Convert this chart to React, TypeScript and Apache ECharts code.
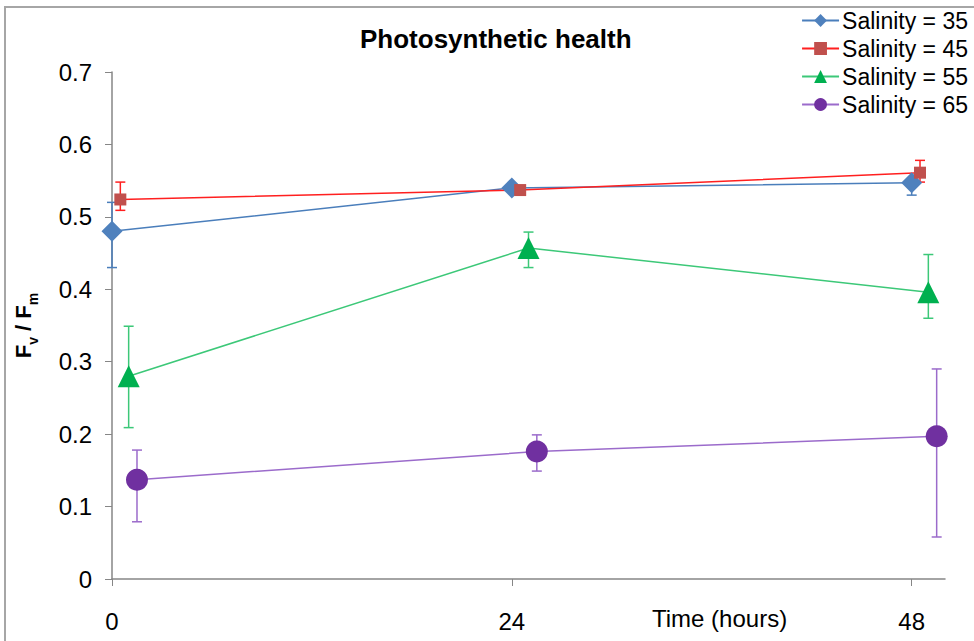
import React, { useEffect, useRef } from 'react';
import * as echarts from 'echarts';

const timeTicks = [0, 24, 48];
const seriesNames = ['Salinity = 35', 'Salinity = 45', 'Salinity = 55', 'Salinity = 65'];

// x positions (hours, slightly offset per series as in the original)
const xS35 = [0, 24, 48];
const xS45 = [0.5, 24.5, 48.5];
const xS55 = [1, 25, 49];
const xS65 = [1.5, 25.5, 49.5];

// Fv/Fm means
const yS35 = [0.48, 0.54, 0.547];
const yS45 = [0.524, 0.537, 0.561];
const yS55 = [0.28, 0.457, 0.396];
const yS65 = [0.137, 0.176, 0.197];

// error bar low / high
const lowS35 = [0.43, 0.54, 0.53];
const highS35 = [0.52, 0.54, 0.55];
const lowS45 = [0.509, 0.537, 0.548];
const highS45 = [0.548, 0.537, 0.578];
const lowS55 = [0.209, 0.43, 0.36];
const highS55 = [0.349, 0.479, 0.448];
const lowS65 = [0.079, 0.149, 0.058];
const highS65 = [0.178, 0.199, 0.29];

const FONT = "'Liberation Sans', Arial, sans-serif";

const styles = [
  { symbol: 'diamond', size: 21, marker: '#4F81BD', line: '#4A7EBB' },
  { symbol: 'rect', size: 12, marker: '#C0504D', line: '#FF1F1F' },
  { symbol: 'triangle', size: 22, marker: '#00B050', line: '#3CC878' },
  { symbol: 'circle', size: 22, marker: '#7030A0', line: '#9B6BCB' },
];

const xs = [xS35, xS45, xS55, xS65];
const ys = [yS35, yS45, yS55, yS65];
const lows = [lowS35, lowS45, lowS55, lowS65];
const highs = [highS35, highS45, highS55, highS65];

export default function App() {
  const ref = useRef<HTMLDivElement>(null);
  useEffect(() => {
    if (!ref.current) return;
    const chart = echarts.init(ref.current, undefined, { renderer: 'svg' });

    const lineSeries = seriesNames.map((name, i) => ({
      name,
      type: 'line',
      data: xs[i].map((x, j) => [x, ys[i][j]]),
      symbol: styles[i].symbol,
      symbolSize: styles[i].size,
      itemStyle: { color: styles[i].marker },
      lineStyle: { color: styles[i].line, width: 1.5 },
      z: 3,
    }));

    const errSeries = seriesNames.map((name, i) => ({
      name: 'err ' + name,
      type: 'custom',
      z: 2,
      data: xs[i].map((x, j) => [x, lows[i][j], highs[i][j]]),
      encode: { x: 0, y: [1, 2] },
      renderItem: (params: any, api: any) => {
        const x = api.value(0);
        const lo = api.value(1);
        const hi = api.value(2);
        if (hi - lo < 1e-6) return { type: 'group', children: [] };
        const pLo = api.coord([x, lo]);
        const pHi = api.coord([x, hi]);
        const w = 5;
        const st = { stroke: styles[i].line, lineWidth: 1.5 };
        return {
          type: 'group',
          children: [
            { type: 'line', shape: { x1: pLo[0], y1: pLo[1], x2: pHi[0], y2: pHi[1] }, style: st },
            { type: 'line', shape: { x1: pHi[0] - w, y1: pHi[1], x2: pHi[0] + w, y2: pHi[1] }, style: st },
            { type: 'line', shape: { x1: pLo[0] - w, y1: pLo[1], x2: pLo[0] + w, y2: pLo[1] }, style: st },
          ],
        };
      },
    }));

    chart.setOption({
      animation: false,
      textStyle: { fontFamily: FONT },
      title: {
        text: 'Photosynthetic health',
        left: 355,
        top: 21,
        textStyle: { fontFamily: FONT, fontSize: 26, fontWeight: 'bold', color: '#000' },
      },
      legend: {
        data: seriesNames,
        orient: 'vertical',
        right: 1,
        top: 4,
        itemWidth: 37,
        itemHeight: 16,
        itemGap: 5,
        textStyle: { fontFamily: FONT, fontSize: 23, color: '#000', padding: [0, 0, 0, -2] },
      },
      grid: { left: 112, top: 72, right: 29, bottom: 62 },
      xAxis: {
        type: 'value',
        min: 0,
        max: 50,
        axisLine: { show: true, lineStyle: { color: '#868686', width: 1.5 } },
        axisTick: { show: true, length: 7, customValues: timeTicks, lineStyle: { color: '#868686' } },
        axisLabel: { customValues: timeTicks, fontSize: 24, color: '#000', margin: 30, fontFamily: FONT },
        splitLine: { show: false },
      },
      yAxis: {
        type: 'value',
        min: 0,
        max: 0.7,
        interval: 0.1,
        name: '{a|F}{s|v}{a| / F}{s|m}',
        nameLocation: 'middle',
        nameRotate: 90,
        nameGap: 78,
        nameTextStyle: {
          rich: {
            a: { fontSize: 22, fontWeight: 'bold', color: '#000', fontFamily: FONT, lineHeight: 26, verticalAlign: 'bottom' },
            s: { fontSize: 14, fontWeight: 'bold', color: '#000', fontFamily: FONT, lineHeight: 26, verticalAlign: 'bottom', padding: [0, 0, -6, 0] },
          },
        },
        axisLine: { show: true, lineStyle: { color: '#868686', width: 1.5 } },
        axisTick: { show: true, length: 7, lineStyle: { color: '#868686' } },
        axisLabel: {
          fontSize: 24,
          color: '#000',
          margin: 20,
          fontFamily: FONT,
          formatter: (v: number) => (v === 0 ? '0' : v.toFixed(1)),
        },
        splitLine: { show: false },
      },
      graphic: [
        {
          type: 'rect',
          shape: { x: 5, y: 7, width: 1200, height: 900 },
          style: { fill: 'none', stroke: '#A6A6A6', lineWidth: 2 },
          silent: true,
        },
        {
          type: 'text',
          x: 652,
          y: 606,
          style: { text: 'Time (hours)', fontSize: 24, fill: '#000', fontFamily: FONT },
        },
      ],
      series: [...errSeries, ...lineSeries],
    });
    return () => chart.dispose();
  }, []);
  return <div ref={ref} style={{ position: 'absolute', left: 0, top: 0, width: 974, height: 641 }} />;
}
